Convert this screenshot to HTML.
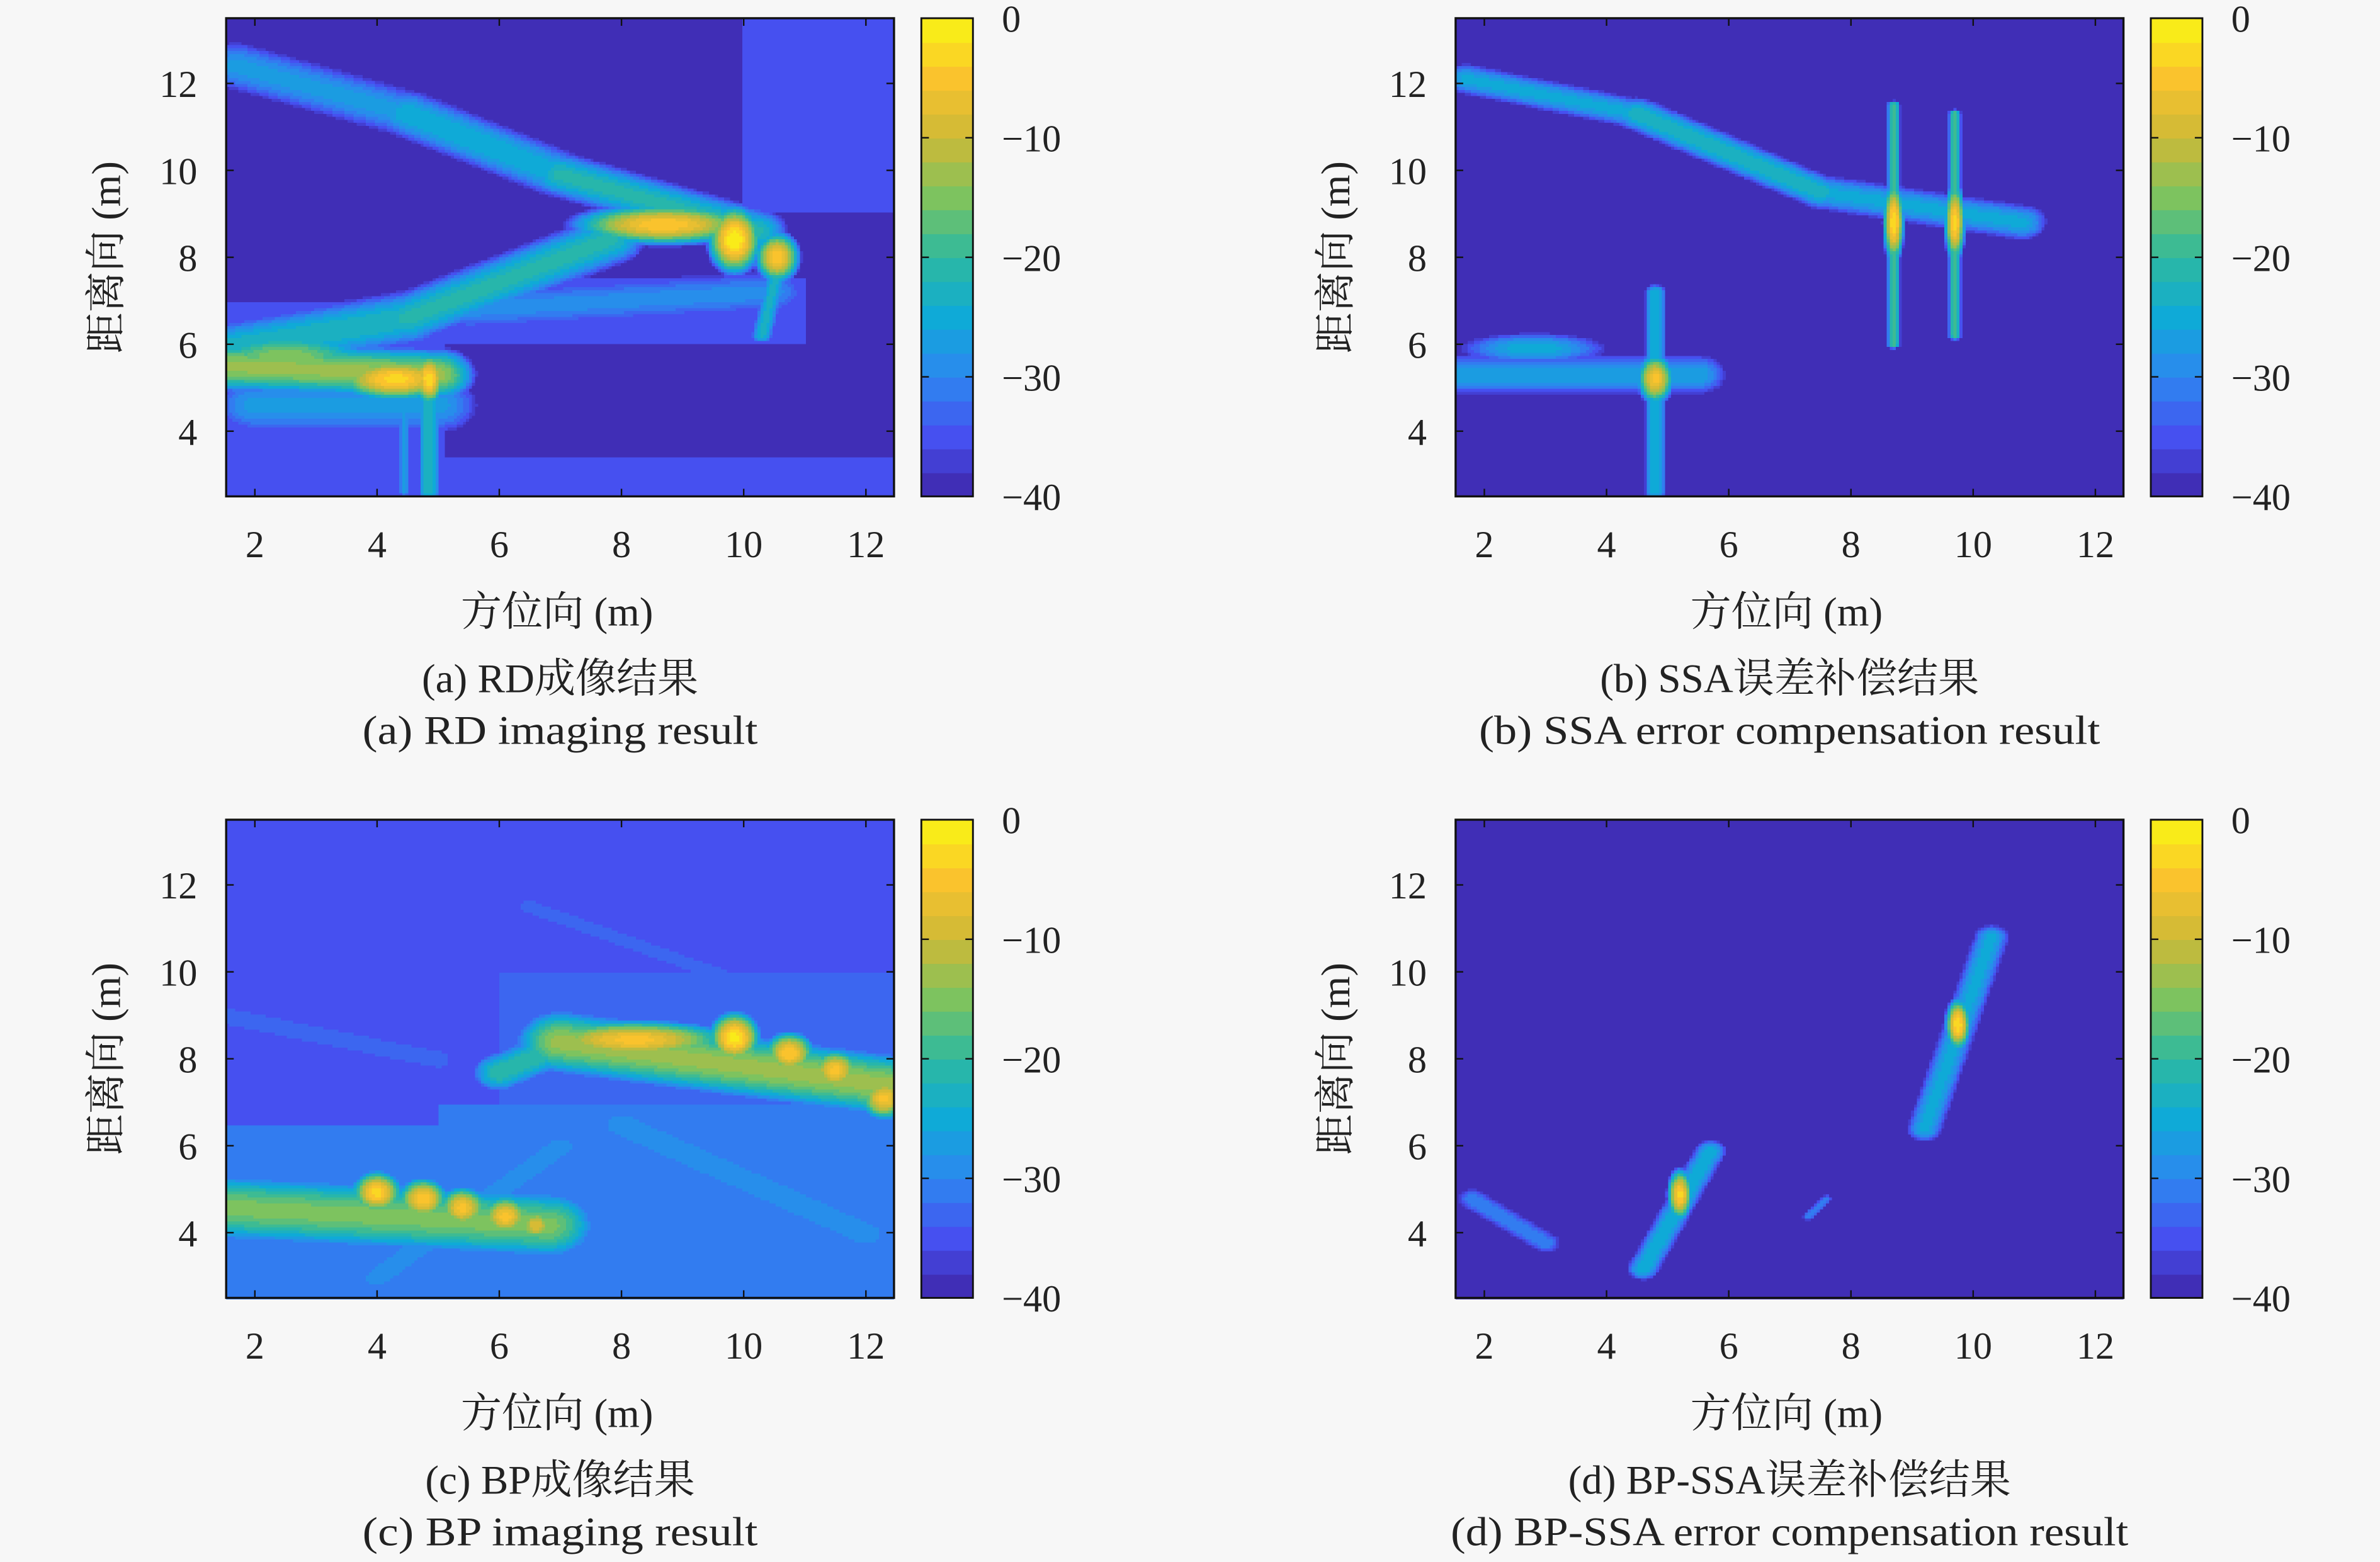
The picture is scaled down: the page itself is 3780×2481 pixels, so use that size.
<!DOCTYPE html>
<html><head><meta charset="utf-8">
<style>
html,body{margin:0;padding:0;background:#f7f7f7;width:3780px;height:2481px;overflow:hidden}
#wrap{position:absolute;left:0;top:0;width:1568px;height:1029px;transform:scale(2.410714,2.411079);transform-origin:0 0}
svg{position:absolute;left:0;top:0}
canvas{position:absolute;image-rendering:pixelated}
text{font-family:"Liberation Serif","Noto Serif CJK SC",serif;fill:#222}
</style></head>
<body>
<div id="wrap">
<canvas id="cvA" style="left:149px;top:12px;width:440px;height:315px"></canvas>
<canvas id="cvB" style="left:959px;top:12px;width:440px;height:315px"></canvas>
<canvas id="cvC" style="left:149px;top:540px;width:440px;height:316px"></canvas>
<canvas id="cvD" style="left:959px;top:540px;width:440px;height:316px"></canvas>
<svg id="sv" width="1568" height="1029" viewBox="0 0 1568 1029"></svg>
</div>
<script>
// ---- data ----
const xTicks = [2,4,6,8,10,12];
const yTicks = [4,6,8,10,12];
const cbTicks = [0,-10,-20,-30,-40];
const xDomain = [1.53,12.46];
const yDomain = [2.5,13.5];
const cbDomain = [-40,0];
// blobs: [x, y, sx, sy, dB]; ridges: [x1,y1,x2,y2,width,dB]; regions: [x1,x2,y1,y2,dB]
const blobsA = [[8.7,8.75,0.9,0.28,-4],[9.85,8.4,0.25,0.45,0],[10.55,8.0,0.22,0.35,-4],[4.3,5.2,0.6,0.3,-3],[4.85,5.2,0.15,0.35,-2],[2.5,5.7,1.0,0.4,-14]];
const ridgesA = [[1.7,12.4,4.5,11.3,0.5,-27],[4.5,11.3,7,9.9,0.45,-24],[7,9.9,10.2,8.6,0.4,-21],[1.6,5.9,4.5,6.6,0.5,-22],[4.5,6.6,7.8,8.4,0.45,-21],[1.5,5.5,5,5.3,0.4,-13],[4.85,2.6,4.85,5,0.15,-22],[4.45,2.6,4.45,5,0.1,-27],[10.3,6.2,10.6,8.0,0.15,-23],[2,4.6,5,4.6,0.6,-27],[5.5,6.8,10.5,7.2,0.5,-29]];
const regionsA = [[1.53,5.1,2.5,7,-35],[10,12.46,9,13.5,-36],[5,11,6,7.5,-36],[1.53,12.46,2.5,3.4,-36]];
const blobsB = [[8.7,8.8,0.1,0.55,-2],[9.7,8.8,0.1,0.55,-3],[4.8,5.2,0.18,0.35,-5],[2.8,5.9,1.0,0.3,-24]];
const ridgesB = [[1.7,12.1,4.5,11.3,0.3,-25],[4.5,11.3,7.5,9.5,0.3,-22],[7.5,9.5,10.8,8.8,0.35,-25],[8.7,6.0,8.7,11.5,0.08,-18],[9.7,6.2,9.7,11.3,0.08,-18],[4.8,2.6,4.8,7.2,0.15,-24],[1.5,5.3,5.5,5.3,0.4,-26]];
const regionsB = [];
const blobsC = [[8.2,8.45,1.0,0.28,-5],[9.85,8.5,0.25,0.35,-1],[10.75,8.15,0.25,0.3,-4],[11.5,7.75,0.25,0.3,-5],[12.3,7.1,0.25,0.3,-5],[4.0,4.95,0.25,0.3,-3],[4.75,4.8,0.25,0.3,-4],[5.4,4.6,0.25,0.3,-5],[6.1,4.4,0.25,0.3,-5],[6.6,4.2,0.2,0.25,-8]];
const ridgesC = [[1.5,4.6,6.8,4.2,0.55,-15],[7,8.4,12.4,7.4,0.5,-13],[6,7.7,7,8.3,0.35,-20],[1.5,9.0,5,8.0,0.4,-32],[6.5,11.5,10.5,9.5,0.3,-32],[4,3,7,6,0.4,-28],[8,6.5,12,4,0.5,-28]];
const regionsC = [[5,12.46,2.5,7,-31],[1.53,5,2.5,6.5,-32],[6,12.46,7,10,-33],[1.53,12.46,2.5,13.5,-36]];
const blobsD = [[9.75,8.8,0.12,0.35,-2],[5.2,4.9,0.12,0.35,-3]];
const ridgesD = [[9.2,6.4,10.3,10.8,0.25,-25],[4.6,3.2,5.7,5.9,0.22,-24],[1.8,4.8,3.0,3.8,0.25,-30],[7.3,4.4,7.6,4.8,0.1,-30]];
const regionsD = [];
const panels = [
  {id:'A',ox:149,oy:12,blobs:blobsA,ridges:ridgesA,regions:regionsA,capCn:'(a) RD成像结果',capEn:'(a) RD imaging result'},
  {id:'B',ox:959,oy:12,blobs:blobsB,ridges:ridgesB,regions:regionsB,capCn:'(b) SSA误差补偿结果',capEn:'(b) SSA error compensation result'},
  {id:'C',ox:149,oy:540,blobs:blobsC,ridges:ridgesC,regions:regionsC,capCn:'(c) BP成像结果',capEn:'(c) BP imaging result'},
  {id:'D',ox:959,oy:540,blobs:blobsD,ridges:ridgesD,regions:regionsD,capCn:'(d) BP-SSA误差补偿结果',capEn:'(d) BP-SSA error compensation result'}
];
// ---- colormap ----
const stops=[[0,62,38,168],[0.125,70,80,240],[0.25,45,135,240],[0.375,15,170,215],[0.5,45,185,160],[0.625,125,195,95],[0.75,205,185,55],[0.875,250,195,45],[1,249,245,20]];
function parula(t){t=Math.max(0,Math.min(1,t));for(let i=1;i<stops.length;i++){if(t<=stops[i][0]){const a=stops[i-1],b=stops[i],f=(t-a[0])/(b[0]-a[0]);return `rgb(${Math.round(a[1]+f*(b[1]-a[1]))},${Math.round(a[2]+f*(b[2]-a[2]))},${Math.round(a[3]+f*(b[3]-a[3]))})`;}}return 'rgb(249,245,20)';}
const NL=20;
function quant(db){let k=Math.floor((db-cbDomain[0])/(cbDomain[1]-cbDomain[0])*NL);k=Math.max(0,Math.min(NL-1,k));return parula((k+0.5)/NL);}
function segD(px,py,r){const dx=r[2]-r[0],dy=r[3]-r[1];const L=dx*dx+dy*dy;let t=L?((px-r[0])*dx+(py-r[1])*dy)/L:0;t=Math.max(0,Math.min(1,t));const qx=r[0]+t*dx-px,qy=r[1]+t*dy-py;return Math.sqrt(qx*qx+qy*qy);}
function field(p,x,y){let v=-40;for(const g of p.regions){if(x>=g[0]&&x<=g[1]&&y>=g[2]&&y<=g[3])v=Math.max(v,g[4]);}
 for(const b of p.blobs){const d=((x-b[0])/b[2])**2+((y-b[1])/b[3])**2;v=Math.max(v,b[4]-10*d);}
 for(const r of p.ridges){const d=segD(x,y,r)/r[4];v=Math.max(v,r[5]-10*d*d);}return v;}
const COLS=220,ROWS=160;
panels.forEach(p=>{const cv=document.getElementById('cv'+p.id);cv.width=COLS;cv.height=ROWS;const c=cv.getContext('2d');
 for(let i=0;i<COLS;i++)for(let j=0;j<ROWS;j++){const x=xDomain[0]+(i+0.5)/COLS*(xDomain[1]-xDomain[0]);const y=yDomain[1]-(j+0.5)/ROWS*(yDomain[1]-yDomain[0]);c.fillStyle=quant(field(p,x,y));c.fillRect(i,j,1,1);}});
// ---- axes ----
const NS='http://www.w3.org/2000/svg',sv=document.getElementById('sv');
function el(tag,at,txt){const e=document.createElementNS(NS,tag);for(const k in at)e.setAttribute(k,at[k]);if(txt!==undefined)e.textContent=txt;sv.appendChild(e);return e;}
const W=440,H=315;
panels.forEach(p=>{
 const sx=v=>p.ox+(v-xDomain[0])/(xDomain[1]-xDomain[0])*W;
 const sy=v=>p.oy+H-(v-yDomain[0])/(yDomain[1]-yDomain[0])*H;
 const fr=el('rect',{x:p.ox,y:p.oy,width:W,height:H,fill:'none',stroke:'#111','stroke-width':1.4});
 
 
 xTicks.forEach(v=>{const X=sx(v);
  el('line',{x1:X,y1:p.oy+H,x2:X,y2:p.oy+H-5,stroke:'#111','stroke-width':1});
  el('line',{x1:X,y1:p.oy,x2:X,y2:p.oy+5,stroke:'#111','stroke-width':1});
  const t=el('text',{x:X,y:p.oy+H+40,'font-size':25,'text-anchor':'middle'},String(v));
  
  });
 yTicks.forEach(v=>{const Y=sy(v);
  el('line',{x1:p.ox,y1:Y,x2:p.ox+5,y2:Y,stroke:'#111','stroke-width':1});
  el('line',{x1:p.ox+W,y1:Y,x2:p.ox+W-5,y2:Y,stroke:'#111','stroke-width':1});
  const t=el('text',{x:p.ox-19,y:Y+9,'font-size':25,'text-anchor':'end'},String(v));
  
  });
 const xt=el('text',{x:p.ox+W/2-2,y:p.oy+H+85,'font-size':27,'text-anchor':'middle'},'方位向 (m)');
 
 
 const yt=el('text',{x:0,y:0,'font-size':27,'text-anchor':'middle',transform:`translate(${p.ox-70},${p.oy+H/2}) rotate(-90)`},'距离向 (m)');
 
 
 const c1=el('text',{x:p.ox+W/2,y:p.oy+H+129,'font-size':27,'text-anchor':'middle','textLength':p.capCn.length*15.5+'' ,'lengthAdjust':'spacingAndGlyphs'},p.capCn);
 c1.removeAttribute('textLength');
 
 
 const c2=el('text',{x:p.ox+W/2,y:p.oy+H+163,'font-size':27,'text-anchor':'middle','textLength':p.capEn.length*12.4,'lengthAdjust':'spacingAndGlyphs'},p.capEn);
 
 
 // colorbar
 const cx=p.ox+458,cw=34;
 for(let k=0;k<NL;k++){const r=el('rect',{x:cx,y:p.oy+H-(k+1)*H/NL,width:cw,height:H/NL+0.5,fill:parula((k+0.5)/NL)});
  
  }
 el('rect',{x:cx,y:p.oy,width:cw,height:H,fill:'none',stroke:'#111','stroke-width':1.2});
 cbTicks.forEach(v=>{const Y=p.oy+H-(v-cbDomain[0])/(cbDomain[1]-cbDomain[0])*H;
  el('line',{x1:cx,y1:Y,x2:cx+5,y2:Y,stroke:'#111','stroke-width':1});
  el('line',{x1:cx+cw,y1:Y,x2:cx+cw-5,y2:Y,stroke:'#111','stroke-width':1});
  const t=el('text',{x:cx+53,y:Y+9,'font-size':25},v===0?'0':'\u2212'+Math.abs(v));
  
  });
});
</script>
</body></html>
